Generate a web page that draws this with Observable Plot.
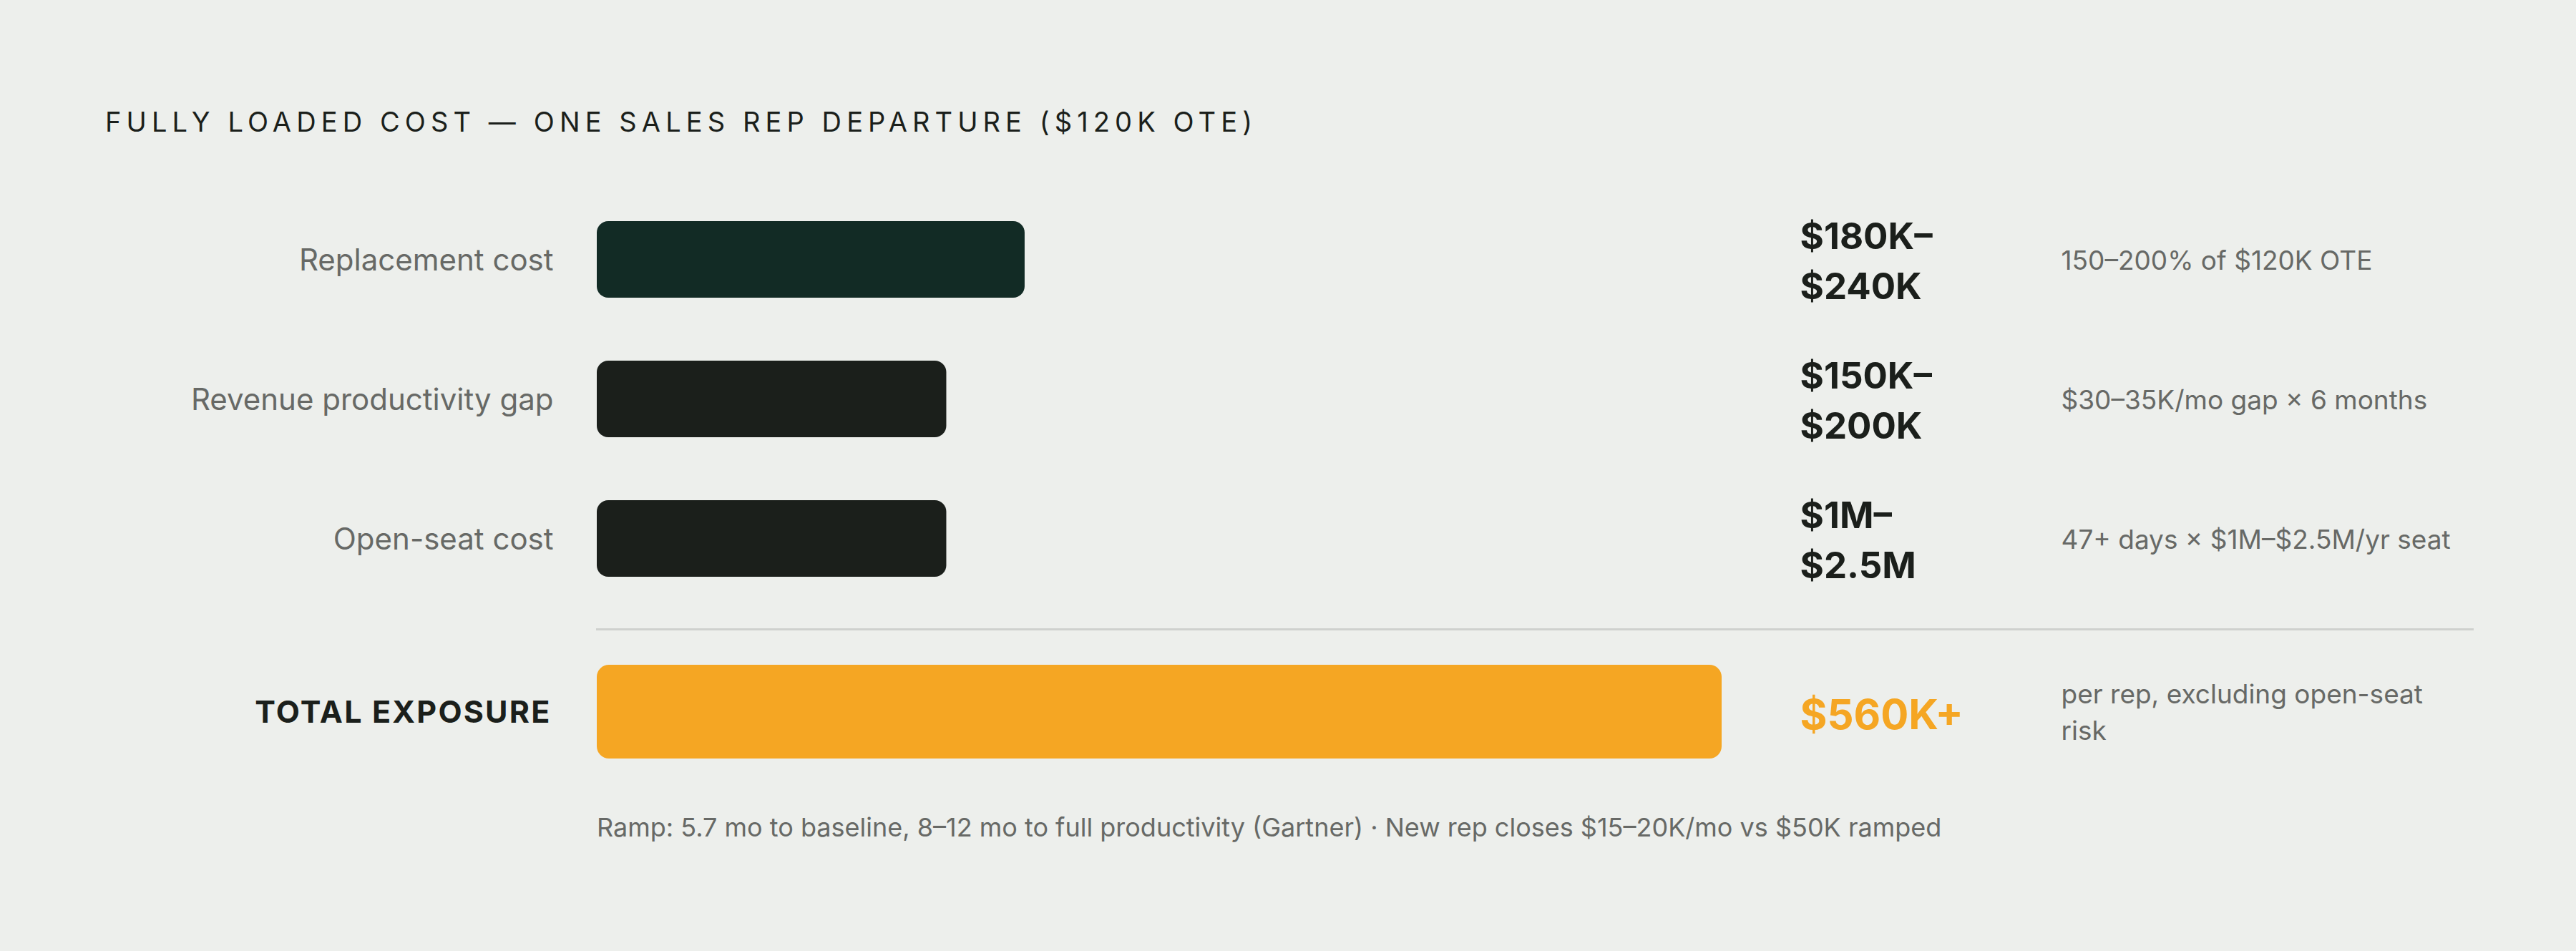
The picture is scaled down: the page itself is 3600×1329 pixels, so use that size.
<!DOCTYPE html>
<html>
<head>
<meta charset="utf-8">
<script src="https://cdn.jsdelivr.net/npm/d3@7"></script>
<script src="https://cdn.jsdelivr.net/npm/@observablehq/plot@0.6"></script>
<style>
  html, body { margin: 0; padding: 0; background: #EDEFEC; }
  body { width: 3600px; height: 1329px; overflow: hidden; font-family: Inter, "Noto Sans", sans-serif; }
  #title { padding: 152px 0 0 147px; height: 37px; line-height: 37px; font-size: 38px; letter-spacing: 7.1px; color: #1B1F1B; font-weight: 400; white-space: nowrap; }
  #chart svg { display: block; }
  #foot { margin-top: 28px; padding-left: 834px; font-size: 36px; line-height: 36px; color: #676966; white-space: nowrap; }
</style>
</head>
<body>
<div id="title"></div>
<div id="chart"></div>
<div id="foot"></div>
<script>
// ---- data ----
const titleText = "FULLY LOADED COST — ONE SALES REP DEPARTURE ($120K OTE)";
const categories = ["Replacement cost", "Revenue productivity gap", "Open-seat cost"];
const barValues = [213, 174, 174]; // bar length, $K (as drawn)
const valueLabels = ["$180K–$240K", "$150K–$200K", "$1M–$2.5M"];
const notes = ["150–200% of $120K OTE", "$30–35K/mo gap × 6 months", "47+ days × $1M–$2.5M/yr seat"];
const totalLabel = "TOTAL EXPOSURE";
const totalValue = 560;
const totalValueLabel = "$560K+";
const totalNote = "per rep, excluding open-seat risk";
const footText = "Ramp: 5.7 mo to baseline, 8–12 mo to full productivity (Gartner) · New rep closes $15–20K/mo vs $50K ramped";

// ---- build ----
document.getElementById("title").textContent = titleText;
document.getElementById("foot").textContent = footText;

const rows = categories.map((c, i) => ({category: c, value: barValues[i], label: valueLabels[i], note: notes[i]}));
const totalRows = [{category: totalLabel, value: totalValue, label: totalValueLabel, note: totalNote}];

const W = 3600, ML = 834, MR = 145;
const xScale = {domain: [0, totalValue], range: [834, 2406]};
const dark = "#1B1F1B", green = "#122B25", gray = "#676966", orange = "#F5A623";

const chart1 = Plot.plot({
  width: W, height: 661,
  marginLeft: ML, marginRight: MR, marginTop: 76, marginBottom: 0,
  style: {background: "transparent", fontFamily: "Inter"},
  x: {...xScale, axis: null},
  y: {domain: categories, padding: 0, axis: null},
  marks: [
    Plot.barX(rows, {x: "value", y: "category", fill: d => d.category === "Replacement cost" ? green : dark,
      insetTop: 44, insetBottom: 44, rx: 16}),
    Plot.text(rows, {y: "category", text: "category", frameAnchor: "left", textAnchor: "end",
      dx: -61, dy: 2, fontSize: 42, fill: gray}),
    Plot.text(rows, {y: "category", text: d => d.label.replace("–", "–\n"), frameAnchor: "left", textAnchor: "start",
      dx: 1681, dy: -2, fontSize: 51, fontWeight: 700, lineHeight: 1.37, fill: dark}),
    Plot.text(rows, {y: "category", text: "note", frameAnchor: "left", textAnchor: "start",
      dx: 2046, dy: 2, fontSize: 37, fill: gray})
  ]
});

const chart2 = Plot.plot({
  width: W, height: 260,
  marginLeft: ML, marginRight: MR, marginTop: 29, marginBottom: 0,
  style: {background: "transparent", fontFamily: "Inter"},
  x: {...xScale, axis: null},
  y: {domain: [totalLabel], padding: 0, axis: null},
  marks: [
    Plot.frame({anchor: "top", stroke: "#CFD1CE", strokeWidth: 3}),
    Plot.barX(totalRows, {x: "value", y: "category", fill: orange, insetTop: 50, insetBottom: 50, rx: 17}),
    Plot.text(totalRows, {y: "category", text: "category", frameAnchor: "left", textAnchor: "end",
      dx: -64, dy: 1, fontSize: 43, fontWeight: 700, fill: dark}),
    Plot.text(totalRows, {y: "category", text: "label", frameAnchor: "left", textAnchor: "start",
      dx: 1681, dy: 5, fontSize: 58, fontWeight: 700, fill: orange}),
    Plot.text(totalRows, {y: "category", text: "note", frameAnchor: "left", textAnchor: "start",
      dx: 2046, dy: -3, fontSize: 37, lineHeight: 1.38, lineWidth: 14, fill: gray})
  ]
});

d3.select(chart2).selectAll("text").filter(function() { return this.textContent === totalLabel; })
  .style("letter-spacing", "2.2px");

document.getElementById("chart").append(chart1, chart2);
</script>
</body>
</html>
